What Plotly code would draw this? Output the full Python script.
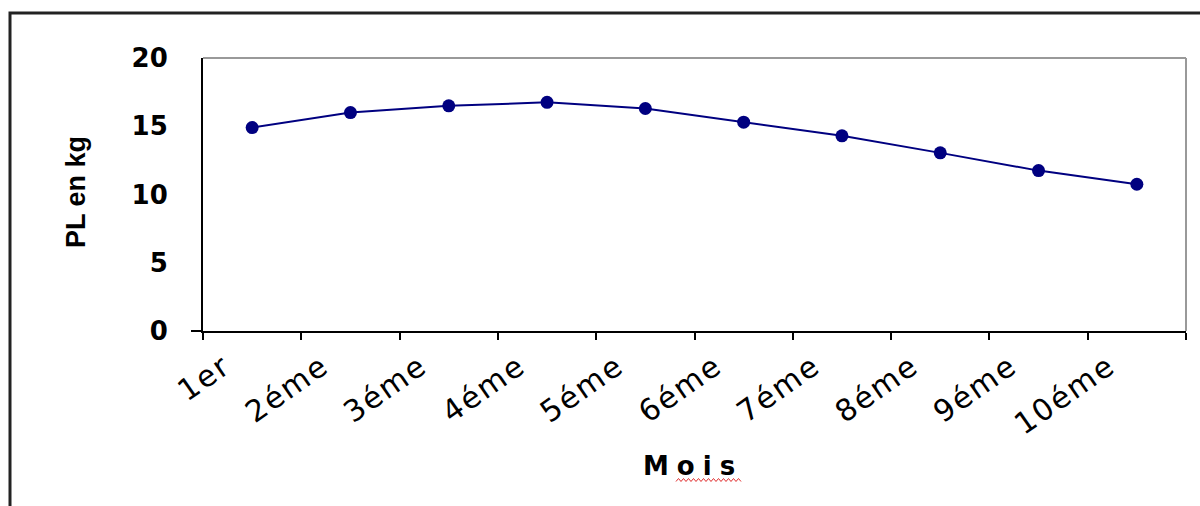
import plotly.graph_objects as go

months = ["1er", "2éme", "3éme", "4éme", "5éme", "6éme", "7éme", "8éme", "9éme", "10éme"]
pl_kg = [14.9, 16.0, 16.5, 16.75, 16.3, 15.3, 14.3, 13.05, 11.75, 10.75]
y_ticks = [0, 5, 10, 15, 20]

W, H = 1200, 506
ML, MR, MT, MB = 203, 14, 58, 175
PW, PH = W - ML - MR, H - MT - MB


def px(x):
    return (x - ML) / PW


def py(y):
    return (H - MB - y) / PH


fig = go.Figure()
fig.add_trace(go.Scatter(
    x=months, y=pl_kg, mode="lines+markers",
    line=dict(color="#000080", width=2),
    marker=dict(color="#000080", size=13),
    showlegend=False, cliponaxis=False,
))

fig.update_layout(
    width=W, height=H,
    margin=dict(l=ML, r=MR, t=MT, b=MB),
    paper_bgcolor="white", plot_bgcolor="white",
    xaxis=dict(
        type="category", range=[-0.5, 9.5], tickson="boundaries",
        ticks="outside", ticklen=7, tickwidth=2, tickcolor="black",
        showline=True, linecolor="black", linewidth=2,
        showgrid=False, zeroline=False,
        tickvals=months,
        ticktext=[f"<span style='letter-spacing:2px'>{m}</span>" for m in months],
        tickangle=-35, tickfont=dict(family="DejaVu Sans", size=30, color="black"),
        ticklabelstandoff=4, ticklabelshift=-28,
    ),
    yaxis=dict(
        range=[0, 20], tickvals=y_ticks, ticktext=[str(v) for v in y_ticks],
        ticks="", showline=True, linecolor="black", linewidth=2,
        showgrid=False, zeroline=False,
        tickfont=dict(family="DejaVu Sans", size=26, color="black", weight="bold"),
        ticklabelstandoff=28,
    ),
)

shapes = []
shapes.append(dict(type="line", xref="paper", yref="paper", x0=0, x1=1, y0=1, y1=1,
                   line=dict(color="#999999", width=2)))
shapes.append(dict(type="line", xref="paper", yref="paper", x0=1, x1=1, y0=0, y1=1,
                   line=dict(color="#999999", width=2)))
shapes.append(dict(type="line", xref="paper", yref="paper", x0=px(191), x1=0, y0=0, y1=0,
                   line=dict(color="black", width=2)))
shapes.append(dict(type="path", xref="paper", yref="paper",
                   path=f"M {px(10)},{py(520)} L {px(10)},{py(13)} L {px(1215)},{py(13)}",
                   line=dict(color="#222222", width=3)))
pts = []
x = 676.0
i = 0
while x <= 743:
    yy = 480 + (1.5 if i % 2 == 0 else -1.5)
    pts.append(f"{px(x)},{py(yy)}")
    x += 2.5
    i += 1
shapes.append(dict(type="path", xref="paper", yref="paper",
                   path="M " + " L ".join(pts), line=dict(color="#e03030", width=1)))
fig.update_layout(shapes=shapes)

fig.add_annotation(text="<b>PL en kg</b>", xref="paper", yref="paper", x=px(76), y=py(192),
                   showarrow=False, textangle=-90, xanchor="center", yanchor="middle",
                   font=dict(family="Liberation Sans", size=27, color="black"))
fig.add_annotation(text="<span style='letter-spacing:8px'><b>Mois</b></span>", xref="paper", yref="paper",
                   x=px(693), y=py(466), showarrow=False, xanchor="center", yanchor="middle",
                   font=dict(family="DejaVu Sans", size=26, color="black"))

fig.write_html("out.html")
